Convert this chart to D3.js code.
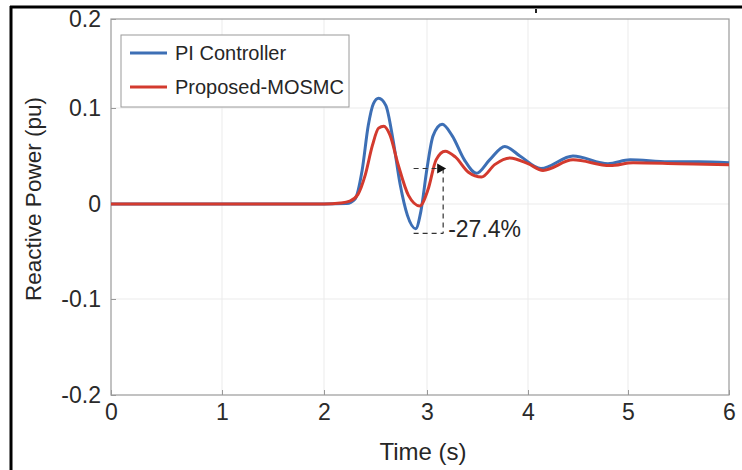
<!DOCTYPE html>
<html>
<head>
<meta charset="utf-8">
<script src="https://cdn.jsdelivr.net/npm/d3@7"></script>
<style>
html,body{margin:0;padding:0;background:#fff;}
svg{display:block;font-family:"Liberation Sans",Arial,sans-serif;}
</style>
</head>
<body>
<svg id="chart" width="742" height="470"></svg>
<script>
// ---- data ----
const xTicks = [0, 1, 2, 3, 4, 5, 6];
const yTicks = [-0.2, -0.1, 0, 0.1, 0.2];
const yTickLabels = ["-0.2", "-0.1", "0", "0.1", "0.2"];
const seriesNames = ["PI Controller", "Proposed-MOSMC"];

const piTime = [0, 1, 2, 2.22, 2.30, 2.37, 2.43, 2.48, 2.53, 2.60, 2.67, 2.74, 2.81, 2.89, 2.94, 3.00, 3.06, 3.15, 3.25, 3.37, 3.49, 3.62, 3.77, 3.92, 4.13, 4.45, 4.80, 5.02, 5.40, 5.70, 6.0];
const piValues = [0, 0, 0, 0.0005, 0.005, 0.035, 0.082, 0.105, 0.111, 0.103, 0.067, 0.020, -0.012, -0.026, -0.008, 0.037, 0.071, 0.083, 0.071, 0.046, 0.032, 0.046, 0.060, 0.050, 0.037, 0.050, 0.042, 0.046, 0.044, 0.044, 0.043];

const smcTime = [0, 1, 2.0, 2.16, 2.25, 2.33, 2.40, 2.47, 2.53, 2.58, 2.64, 2.72, 2.82, 2.93, 3.01, 3.09, 3.18, 3.28, 3.41, 3.54, 3.67, 3.82, 4.00, 4.15, 4.45, 4.82, 5.05, 5.50, 6.0];
const smcValues = [0, 0, 0, 0.001, 0.003, 0.010, 0.030, 0.061, 0.079, 0.081, 0.072, 0.041, 0.009, -0.002, 0.015, 0.046, 0.055, 0.049, 0.033, 0.028, 0.041, 0.048, 0.042, 0.035, 0.046, 0.040, 0.043, 0.042, 0.041];

// annotation (data units)
const annotTop = 0.037, annotBottom = -0.031, annotLeft = 2.87, annotRight = 3.16;
const annotText = "-27.4%";

const colors = ["#3d6fb5", "#d33a2e"];

// ---- chart ----
const svg = d3.select("#chart");
const x = d3.scaleLinear().domain(xTicks).range([111, 222, 324, 427, 528, 628, 729]);
const y = d3.scaleLinear().domain(yTicks).range([395, 299, 204, 108, 19]);

// outer frame (top & left black border)
svg.append("rect").attr("x", 0).attr("y", 0).attr("width", 742).attr("height", 470).attr("fill", "#fff");
svg.append("line").attr("x1", 10).attr("x2", 742).attr("y1", 7).attr("y2", 7).attr("stroke", "#000").attr("stroke-width", 3);
svg.append("line").attr("x1", 11).attr("x2", 11).attr("y1", 6).attr("y2", 470).attr("stroke", "#000").attr("stroke-width", 3);
svg.append("rect").attr("x", 535).attr("y", 9).attr("width", 2).attr("height", 4).attr("fill", "#222");

// grid
const grid = svg.append("g");
grid.selectAll(".gx").data(xTicks.slice(1, -1)).join("line")
  .attr("x1", d => x(d)).attr("x2", d => x(d)).attr("y1", y(0.2)).attr("y2", y(-0.2))
  .attr("stroke", "#ebebeb").attr("stroke-width", 1);
grid.selectAll(".gy").data(yTicks.slice(1, -1)).join("line")
  .attr("x1", x(0)).attr("x2", x(6)).attr("y1", d => y(d)).attr("y2", d => y(d))
  .attr("stroke", "#ebebeb").attr("stroke-width", 1);

// axes
const xAxis = svg.append("g").attr("transform", `translate(0,${y(-0.2)})`)
  .call(d3.axisBottom(x).tickValues(xTicks).tickSize(-5).tickPadding(9).tickFormat(d3.format("d")));
const yAxis = svg.append("g").attr("transform", `translate(${x(0)},0)`)
  .call(d3.axisLeft(y).tickValues(yTicks).tickSize(-5).tickPadding(10).tickFormat((d, i) => yTickLabels[i]));
[xAxis, yAxis].forEach(a => {
  a.select(".domain").remove();
  a.selectAll(".tick line").attr("stroke", "#999");
  a.selectAll("text").attr("font-size", 23).attr("fill", "#2a2a2a").attr("font-family", "Liberation Sans, Arial, sans-serif");
});
// box
svg.append("rect").attr("x", x(0)).attr("y", y(0.2)).attr("width", x(6) - x(0)).attr("height", y(-0.2) - y(0.2))
  .attr("fill", "none").attr("stroke", "#9a9a9a").attr("stroke-width", 1.2);

// lines
const line = d3.line().x(d => x(d[0])).y(d => y(d[1])).curve(d3.curveMonotoneX);
const piData = piTime.map((t, i) => [t, piValues[i]]);
const smcData = smcTime.map((t, i) => [t, smcValues[i]]);
svg.append("path").datum(piData).attr("d", line).attr("fill", "none").attr("stroke", colors[0]).attr("stroke-width", 3);
svg.append("path").datum(smcData).attr("d", line).attr("fill", "none").attr("stroke", colors[1]).attr("stroke-width", 3);

// annotation
const ann = svg.append("g").attr("stroke", "#333").attr("stroke-width", 1.2).attr("stroke-dasharray", "5,4").attr("fill", "none");
ann.append("line").attr("x1", x(annotLeft)).attr("x2", x(annotRight) - 4).attr("y1", y(annotTop)).attr("y2", y(annotTop));
ann.append("line").attr("x1", x(annotRight)).attr("x2", x(annotRight)).attr("y1", y(annotTop)).attr("y2", y(annotBottom));
ann.append("line").attr("x1", x(annotLeft)).attr("x2", x(annotRight)).attr("y1", y(annotBottom)).attr("y2", y(annotBottom));
svg.append("path")
  .attr("d", `M${x(annotRight) + 3},${y(annotTop)} l-9,-5 l0,10 z`)
  .attr("fill", "#111");
svg.append("text").attr("x", x(annotRight) + 5).attr("y", y(annotBottom) + 4)
  .attr("font-size", 23).attr("fill", "#262626").text(annotText);

// axis titles
svg.append("text").attr("x", (x(0) + x(6)) / 2 + 3).attr("y", 460).attr("text-anchor", "middle")
  .attr("font-size", 24).attr("fill", "#262626").text("Time (s)");
svg.append("text").attr("transform", `translate(41,${(y(0.2) + y(-0.2)) / 2 - 8}) rotate(-90)`)
  .attr("text-anchor", "middle").attr("font-size", 22.5).attr("fill", "#262626").text("Reactive Power (pu)");

// legend
const lg = svg.append("g").attr("transform", "translate(121,35)");
lg.append("rect").attr("width", 228).attr("height", 72).attr("fill", "#fff").attr("stroke", "#9a9a9a").attr("stroke-width", 1);
seriesNames.forEach((name, i) => {
  const yy = 18 + i * 34;
  lg.append("line").attr("x1", 9).attr("x2", 46).attr("y1", yy).attr("y2", yy).attr("stroke", colors[i]).attr("stroke-width", 3);
  lg.append("text").attr("x", 54).attr("y", yy + 7).attr("font-size", 20).attr("fill", "#262626").text(name);
});
</script>
</body>
</html>
